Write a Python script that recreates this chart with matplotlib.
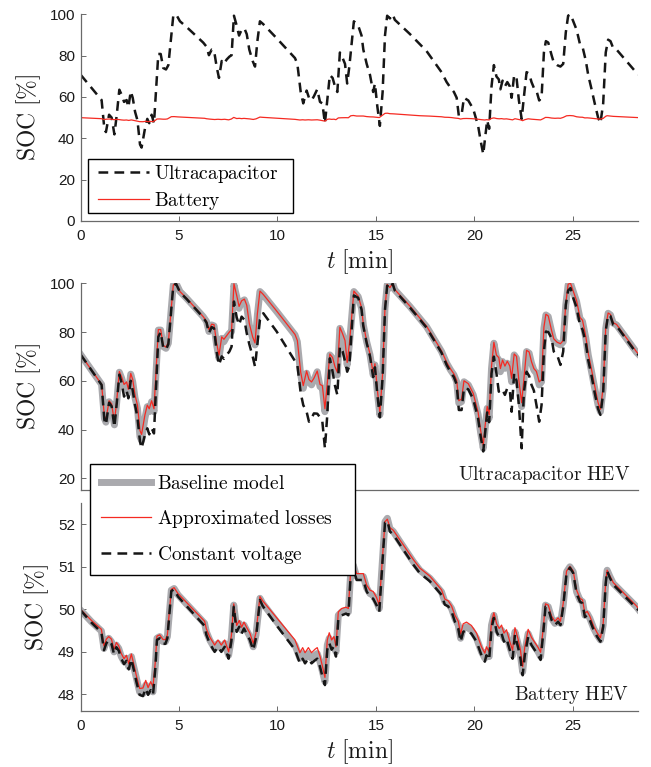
import matplotlib
matplotlib.use("Agg")
import matplotlib.pyplot as plt
from matplotlib.lines import Line2D
from matplotlib.patches import Rectangle

plt.rcParams["mathtext.fontset"] = "cm"
plt.rcParams["font.family"] = ["Liberation Sans", "DejaVu Sans"]
plt.rcParams["lines.scale_dashes"] = False

T_END = 28.33

# ultracapacitor HEV, SOC [%] vs t [min]
t_uc = [0.00, 1.07, 1.21, 1.29, 1.45, 1.58, 1.72, 1.84, 1.97, 2.09,
        2.21, 2.34, 2.43, 2.55, 2.65, 2.77, 2.89, 3.02, 3.10, 3.27,
        3.39, 3.49, 3.61, 3.73, 3.95, 4.07, 4.20, 4.34, 4.46, 4.71,
        4.85, 5.05, 5.39, 6.23, 6.40, 6.52, 6.66, 6.78, 6.91, 7.03,
        7.17, 7.28, 7.42, 7.56, 7.67, 7.79, 7.93, 8.05, 8.18, 8.32,
        8.44, 8.57, 8.74, 8.86, 8.98, 9.11, 9.28, 9.96, 10.89, 11.01,
        11.18, 11.31, 11.48, 11.60, 11.73, 11.85, 12.02, 12.16, 12.28, 12.41,
        12.53, 12.66, 12.80, 12.92, 13.04, 13.17, 13.31, 13.43, 13.54, 13.65,
        13.88, 14.10, 14.27, 14.36, 14.53, 14.70, 14.86, 14.95, 15.07, 15.20,
        15.34, 15.46, 15.57, 15.71, 15.85, 15.96, 16.73, 17.57, 18.33, 18.59,
        18.79, 18.96, 19.10, 19.21, 19.35, 19.47, 19.69, 19.94, 20.19, 20.31,
        20.45, 20.53, 20.65, 20.75, 20.87, 20.99, 21.12, 21.24, 21.32, 21.43,
        21.55, 21.67, 21.80, 21.89, 22.02, 22.14, 22.26, 22.40, 22.51, 22.65,
        22.78, 22.90, 23.02, 23.15, 23.29, 23.41, 23.53, 23.63, 23.75, 23.92,
        24.03, 24.20, 24.37, 24.51, 24.64, 24.76, 24.88, 25.02, 25.19, 25.36,
        25.49, 25.66, 25.78, 25.95, 26.11, 26.28, 26.40, 26.54, 26.67, 26.79,
        26.91, 27.05, 27.22, 28.23, 28.33]

uc_base = [70.8, 58.5, 44.6, 43.0, 51.4, 50.0, 41.9, 51.4, 63.5, 61.0,
           57.6, 58.5, 55.0, 62.7, 59.6, 52.8, 48.7, 37.0, 35.5, 44.6,
           49.4, 47.3, 51.4, 47.3, 80.8, 80.8, 74.0, 73.3, 75.4, 99.3,
           100.0, 96.6, 93.8, 86.3, 84.3, 80.2, 82.9, 82.5, 74.7, 69.2,
           77.4, 76.0, 78.1, 79.5, 80.2, 99.3, 94.5, 89.7, 92.5, 93.2,
           90.4, 82.9, 77.4, 74.7, 87.0, 96.6, 95.2, 88.4, 78.8, 76.0,
           62.4, 56.9, 63.1, 59.6, 58.3, 60.3, 63.7, 57.6, 56.9, 47.3,
           58.3, 70.6, 69.2, 65.1, 62.4, 81.5, 78.8, 76.0, 66.5, 74.7,
           96.6, 94.5, 89.7, 82.9, 76.0, 70.6, 62.4, 66.5, 55.5, 46.0,
           62.4, 89.7, 99.3, 98.0, 100.0, 97.3, 90.4, 82.2, 72.0, 67.2,
           64.4, 62.4, 59.6, 50.8, 51.4, 59.6, 58.3, 54.2, 46.0, 39.1,
           32.3, 39.1, 48.7, 44.6, 65.1, 75.4, 69.9, 68.5, 63.7, 67.9,
           65.1, 67.2, 65.1, 59.6, 70.6, 69.2, 58.3, 49.4, 59.6, 72.0,
           71.3, 67.2, 64.4, 63.1, 58.3, 59.6, 81.5, 87.0, 86.3, 80.2,
           76.7, 75.4, 74.7, 76.0, 91.1, 99.3, 100.0, 96.6, 92.5, 85.6,
           84.3, 77.4, 70.6, 63.7, 56.9, 50.1, 47.3, 56.9, 81.5, 87.7,
           87.0, 83.6, 82.9, 71.7, 70.9]

uc_approx = [70.8, 58.5, 45.5, 44.0, 51.8, 50.5, 43.0, 52.0, 63.8, 61.5,
             58.5, 59.5, 56.5, 63.0, 60.5, 54.0, 50.0, 39.5, 38.0, 46.0,
             50.0, 48.5, 51.8, 48.5, 81.0, 81.0, 74.5, 73.8, 75.8, 99.3,
             100.0, 96.6, 93.8, 86.3, 84.3, 81.0, 83.2, 83.0, 75.5, 70.5,
             78.0, 77.0, 78.5, 80.0, 81.0, 99.8, 95.0, 90.5, 92.8, 93.5,
             91.0, 83.5, 78.0, 75.5, 87.5, 96.8, 95.4, 88.6, 79.0, 76.5,
             63.5, 58.0, 64.0, 60.5, 59.5, 61.0, 64.0, 58.5, 58.0, 48.5,
             59.0, 71.0, 69.5, 65.8, 63.5, 82.0, 79.2, 76.5, 67.5, 75.0,
             96.8, 94.7, 90.0, 83.2, 76.3, 71.0, 63.0, 67.0, 56.5, 47.0,
             63.0, 90.0, 99.5, 98.2, 100.0, 97.4, 90.6, 82.4, 72.3, 67.6,
             64.8, 62.8, 60.2, 51.8, 52.5, 60.0, 58.8, 54.8, 47.0, 40.0,
             33.5, 40.5, 49.5, 46.0, 66.0, 75.8, 70.5, 69.5, 65.0, 68.5,
             66.0, 68.0, 66.0, 61.0, 71.0, 70.0, 60.0, 51.0, 60.5, 72.5,
             71.8, 67.8, 65.0, 63.8, 59.5, 60.5, 82.0, 87.3, 86.6, 80.6,
             77.2, 75.8, 75.2, 76.5, 91.5, 99.6, 100.0, 96.8, 92.8, 86.0,
             84.8, 78.0, 71.3, 64.5, 57.8, 51.0, 48.3, 57.5, 81.8, 87.8,
             87.2, 83.8, 83.1, 71.9, 71.0]

uc_const = [70.8, 58.3, 44.0, 42.0, 51.0, 49.5, 41.0, 50.8, 62.5, 59.0,
            53.5, 56.0, 52.8, 60.0, 56.0, 50.0, 45.0, 35.0, 32.3, 37.8,
            40.5, 38.0, 40.5, 38.4, 78.0, 80.0, 73.5, 72.8, 75.0, 99.0,
            99.8, 96.3, 93.5, 86.0, 83.8, 79.5, 82.0, 81.5, 72.0, 66.5,
            70.0, 69.0, 70.6, 72.0, 74.0, 92.5, 86.0, 82.9, 86.3, 85.0,
            79.5, 75.0, 70.0, 65.8, 75.0, 85.0, 87.7, 80.2, 68.0, 66.5,
            55.0, 50.0, 47.3, 43.2, 44.6, 46.6, 46.5, 45.0, 43.2, 32.3,
            46.0, 69.2, 63.7, 58.0, 54.2, 74.0, 72.0, 68.0, 63.7, 66.0,
            95.0, 94.0, 89.2, 82.4, 75.5, 70.0, 61.5, 65.5, 54.5, 45.0,
            61.5, 89.0, 99.0, 97.8, 99.8, 97.0, 90.0, 81.8, 71.5, 66.5,
            63.5, 61.5, 58.5, 48.0, 48.0, 57.0, 56.5, 52.5, 44.5, 37.5,
            31.0, 37.5, 47.0, 43.0, 63.0, 69.9, 63.0, 55.5, 56.5, 56.2,
            54.2, 57.0, 56.2, 47.3, 63.1, 60.0, 50.0, 32.3, 55.0, 63.7,
            62.0, 58.3, 56.0, 50.1, 43.2, 50.0, 72.0, 80.2, 80.0, 77.4,
            72.0, 70.6, 66.5, 72.0, 91.1, 97.0, 98.0, 94.0, 90.0, 83.0,
            81.0, 75.5, 68.5, 62.0, 55.0, 48.5, 46.0, 55.0, 80.5, 87.0,
            86.5, 83.0, 82.5, 71.3, 70.6]

# battery HEV, SOC [%] vs t [min]
t_bat = [0.00, 0.55, 1.06, 1.19, 1.31, 1.43, 1.57, 1.70, 1.82, 1.94,
         2.07, 2.21, 2.33, 2.45, 2.58, 2.72, 2.83, 3.00, 3.17, 3.31,
         3.43, 3.56, 3.68, 3.80, 3.88, 4.02, 4.19, 4.31, 4.41, 4.61,
         4.75, 4.95, 6.30, 6.39, 6.56, 6.81, 6.98, 7.15, 7.32, 7.52,
         7.66, 7.78, 7.93, 8.06, 8.18, 8.30, 8.43, 8.60, 8.77, 8.91,
         9.11, 9.25, 9.96, 10.89, 11.14, 11.28, 11.40, 11.57, 11.73, 11.90,
         12.02, 12.16, 12.29, 12.41, 12.53, 12.63, 12.75, 12.87, 12.97, 13.09,
         13.26, 13.48, 13.60, 13.72, 13.85, 14.02, 14.36, 14.53, 14.70, 14.86,
         15.03, 15.17, 15.29, 15.46, 15.58, 15.71, 15.88, 16.22, 16.90, 17.23,
         17.74, 18.33, 18.50, 18.67, 18.84, 19.01, 19.18, 19.30, 19.43, 19.60,
         19.85, 20.11, 20.36, 20.53, 20.61, 20.75, 20.87, 20.99, 21.13, 21.26,
         21.38, 21.50, 21.63, 21.80, 21.94, 22.06, 22.23, 22.34, 22.45, 22.56,
         22.73, 22.90, 23.07, 23.24, 23.36, 23.49, 23.61, 23.75, 23.92, 24.09,
         24.25, 24.37, 24.51, 24.68, 24.85, 25.02, 25.19, 25.36, 25.49, 25.61,
         25.73, 25.86, 26.06, 26.23, 26.40, 26.54, 26.67, 26.74, 26.88, 27.05,
         28.23, 28.33]

bat_base = [49.98, 49.71, 49.49, 49.08, 49.24, 49.32, 49.24, 49.00, 49.16, 49.08,
            48.89, 48.77, 48.85, 48.65, 48.89, 48.61, 48.38, 48.06, 48.02, 48.22,
            48.06, 48.18, 48.06, 48.69, 49.32, 49.36, 49.24, 49.24, 49.36, 50.45,
            50.49, 50.34, 49.67, 49.47, 49.28, 49.08, 49.20, 49.08, 49.20, 48.92,
            49.32, 50.10, 49.55, 49.67, 49.51, 49.63, 49.51, 49.36, 49.12, 49.40,
            50.26, 50.14, 49.71, 49.16, 48.85, 48.96, 48.85, 48.96, 48.85, 48.92,
            48.96, 48.77, 48.53, 48.30, 49.16, 49.32, 49.16, 49.24, 49.00, 49.86,
            49.94, 49.98, 49.94, 50.88, 51.04, 50.77, 50.77, 50.50, 50.37, 50.33,
            50.18, 50.02, 50.88, 52.06, 52.14, 51.90, 51.83, 51.59, 51.12, 50.92,
            50.73, 50.41, 50.18, 50.14, 50.02, 49.79, 49.63, 49.32, 49.55, 49.59,
            49.51, 49.32, 49.00, 48.85, 49.00, 48.89, 49.63, 49.86, 49.55, 49.43,
            49.51, 49.32, 49.40, 49.12, 48.92, 49.47, 49.16, 48.92, 48.53, 49.00,
            49.43, 49.24, 49.12, 49.00, 48.89, 49.47, 50.10, 50.06, 49.79, 49.67,
            49.75, 49.67, 50.10, 50.88, 51.00, 50.88, 50.41, 50.22, 50.18, 49.86,
            49.90, 49.79, 49.55, 49.40, 49.28, 49.63, 50.65, 50.92, 50.77, 50.61,
            50.06, 50.00]

bat_approx = [50.00, 49.74, 49.53, 49.14, 49.30, 49.36, 49.30, 49.06, 49.22, 49.14,
              48.96, 48.84, 48.92, 48.72, 48.95, 48.68, 48.45, 48.14, 48.15, 48.33,
              48.16, 48.30, 48.18, 48.78, 49.37, 49.40, 49.29, 49.29, 49.40, 50.47,
              50.51, 50.37, 49.72, 49.54, 49.35, 49.16, 49.28, 49.16, 49.28, 49.00,
              49.38, 50.13, 49.62, 49.74, 49.58, 49.70, 49.58, 49.44, 49.20, 49.45,
              50.30, 50.20, 49.80, 49.28, 48.98, 49.10, 48.98, 49.10, 48.98, 49.06,
              49.10, 48.90, 48.65, 48.40, 49.28, 49.45, 49.28, 49.36, 49.12, 49.94,
              50.02, 50.05, 50.02, 50.93, 51.07, 50.84, 50.84, 50.57, 50.45, 50.42,
              50.28, 50.10, 50.93, 52.06, 52.12, 51.92, 51.86, 51.63, 51.17, 50.97,
              50.78, 50.46, 50.24, 50.20, 50.08, 49.86, 49.72, 49.42, 49.66, 49.70,
              49.62, 49.44, 49.12, 48.97, 49.12, 49.00, 49.72, 49.92, 49.66, 49.55,
              49.63, 49.44, 49.52, 49.24, 49.04, 49.57, 49.28, 49.04, 48.65, 49.12,
              49.53, 49.34, 49.22, 49.10, 48.99, 49.53, 50.13, 50.10, 49.84, 49.72,
              49.80, 49.72, 50.14, 50.90, 51.01, 50.90, 50.45, 50.26, 50.22, 49.91,
              49.95, 49.84, 49.60, 49.45, 49.33, 49.67, 50.67, 50.92, 50.79, 50.63,
              50.08, 50.02]

bat_const = [49.98, 49.69, 49.46, 49.04, 49.20, 49.28, 49.19, 48.95, 49.11, 49.03,
             48.84, 48.71, 48.79, 48.59, 48.83, 48.55, 48.31, 47.99, 47.96, 48.14,
             47.99, 48.10, 47.99, 48.62, 49.28, 49.32, 49.19, 49.19, 49.32, 50.43,
             50.47, 50.30, 49.61, 49.40, 49.20, 49.00, 49.12, 49.00, 49.12, 48.84,
             49.25, 50.06, 49.47, 49.59, 49.43, 49.55, 49.43, 49.28, 49.04, 49.33,
             50.22, 50.08, 49.62, 49.05, 48.73, 48.84, 48.73, 48.84, 48.73, 48.80,
             48.84, 48.65, 48.41, 48.22, 49.05, 49.21, 49.05, 49.13, 48.89, 49.78,
             49.86, 49.90, 49.86, 50.82, 50.98, 50.69, 50.69, 50.42, 50.29, 50.25,
             50.10, 49.94, 50.82, 52.04, 52.08, 51.83, 51.76, 51.52, 51.05, 50.85,
             50.66, 50.34, 50.11, 50.07, 49.95, 49.71, 49.55, 49.24, 49.47, 49.51,
             49.43, 49.24, 48.92, 48.77, 48.92, 48.81, 49.56, 49.80, 49.47, 49.35,
             49.43, 49.24, 49.32, 49.04, 48.84, 49.40, 49.08, 48.84, 48.45, 48.92,
             49.35, 49.16, 49.04, 48.92, 48.81, 49.41, 50.06, 50.02, 49.75, 49.63,
             49.71, 49.63, 50.06, 50.85, 50.98, 50.85, 50.37, 50.18, 50.14, 49.82,
             49.86, 49.75, 49.51, 49.36, 49.24, 49.59, 50.62, 50.90, 50.74, 50.58,
             50.03, 49.98]

GREY = "#aaaaae"
RED = "#f52a22"
BLACK = "#161616"
AXC = "#6a6a6a"
TXT = "#1a1a1a"
DASH = (7.0, 4.5)


def style(ax):
    for s in ("top", "right"):
        ax.spines[s].set_visible(False)
    for s in ("left", "bottom"):
        ax.spines[s].set_color(AXC)
        ax.spines[s].set_linewidth(0.9)
    ax.tick_params(direction="in", length=3.5, width=0.7, color=AXC,
                   labelsize=11, labelcolor=TXT)
    ax.tick_params(axis="x", pad=6)
    ax.tick_params(axis="y", pad=4)
    ax.set_xlim(0, T_END)
    ax.set_xticks([0, 5, 10, 15, 20, 25])
    ax.set_ylabel(r"$\mathrm{SOC}\ [\%]$", fontsize=17, color=TXT, labelpad=5)


def frame(x0, y0, x1, y1):
    # legend box in pixel coords of the 651x767 canvas
    fig.add_artist(Rectangle((x0 / 651, 1 - y1 / 767), (x1 - x0) / 651,
                             (y1 - y0) / 767, transform=fig.transFigure,
                             facecolor="white", edgecolor="black", lw=1.0,
                             zorder=4))


fig = plt.figure(figsize=(6.51, 7.67), dpi=100)
L, W = 0.1237, 0.857
ax1 = fig.add_axes([L, 0.7119, W, 0.2695])
ax2 = fig.add_axes([L, 0.3612, W, 0.2695])
ax3 = fig.add_axes([L, 0.0730, W, 0.2712])

# top: both storage devices
h_uc, = ax1.plot(t_uc, uc_base, color=BLACK, lw=1.8, dashes=DASH)
h_bat, = ax1.plot(t_bat, bat_base, color=RED, lw=0.9)
style(ax1)
ax1.set_ylim(0, 100)
ax1.set_yticks([0, 20, 40, 60, 80, 100])
ax1.set_xlabel(r"$t\ [\mathrm{min}]$", fontsize=17, color=TXT, labelpad=3)

frame(88, 158.7, 293.3, 213.3)
fig.legend([h_uc, h_bat],
           [r"$\mathrm{Ultracapacitor}$", r"$\mathrm{Battery}$"],
           loc="upper left", bbox_to_anchor=(98 / 651, 1 - 163 / 767),
           frameon=False, fontsize=14, borderpad=0, borderaxespad=0,
           handlelength=2.6, handletextpad=0.3, labelspacing=0.25)

# middle: ultracapacitor HEV model comparison
hb, = ax2.plot(t_uc, uc_base, color=GREY, lw=5, solid_joinstyle="round")
ha, = ax2.plot(t_uc, uc_approx, color=RED, lw=0.9)
hc, = ax2.plot(t_uc, uc_const, color=BLACK, lw=1.8, dashes=DASH)
style(ax2)
ax2.set_ylim(15.2, 100)
ax2.set_yticks([20, 40, 60, 80, 100])
ax2.tick_params(axis="x", length=0, labelbottom=False)
ax2.text(0.985, 0.048, r"$\mathrm{Ultracapacitor\ HEV}$", transform=ax2.transAxes,
         ha="right", va="baseline", fontsize=14, color=TXT)

# bottom: battery HEV model comparison
ax3.plot(t_bat, bat_base, color=GREY, lw=5, solid_joinstyle="round")
ax3.plot(t_bat, bat_approx, color=RED, lw=0.9)
ax3.plot(t_bat, bat_const, color=BLACK, lw=1.8, dashes=DASH)
style(ax3)
ax3.set_ylim(47.61, 52.5)
ax3.set_yticks([48, 49, 50, 51, 52])
ax3.set_xlabel(r"$t\ [\mathrm{min}]$", fontsize=17, color=TXT, labelpad=3)
ax3.text(0.982, 0.053, r"$\mathrm{Battery\ HEV}$", transform=ax3.transAxes,
         ha="right", va="baseline", fontsize=14, color=TXT)

frame(90.3, 464, 355, 575)
fig.legend([Line2D([], [], color=GREY, lw=5), Line2D([], [], color=RED, lw=0.9),
            Line2D([], [], color=BLACK, lw=1.8, dashes=DASH)],
           [r"$\mathrm{Baseline\ model}$", r"$\mathrm{Approximated\ losses}$",
            r"$\mathrm{Constant\ voltage}$"],
           loc="upper left", bbox_to_anchor=(100.7 / 651, 1 - 475 / 767),
           frameon=False, fontsize=14, borderpad=0, borderaxespad=0,
           handlelength=2.6, handletextpad=0.3, labelspacing=0.75)

fig.savefig("out.png", dpi=100)
